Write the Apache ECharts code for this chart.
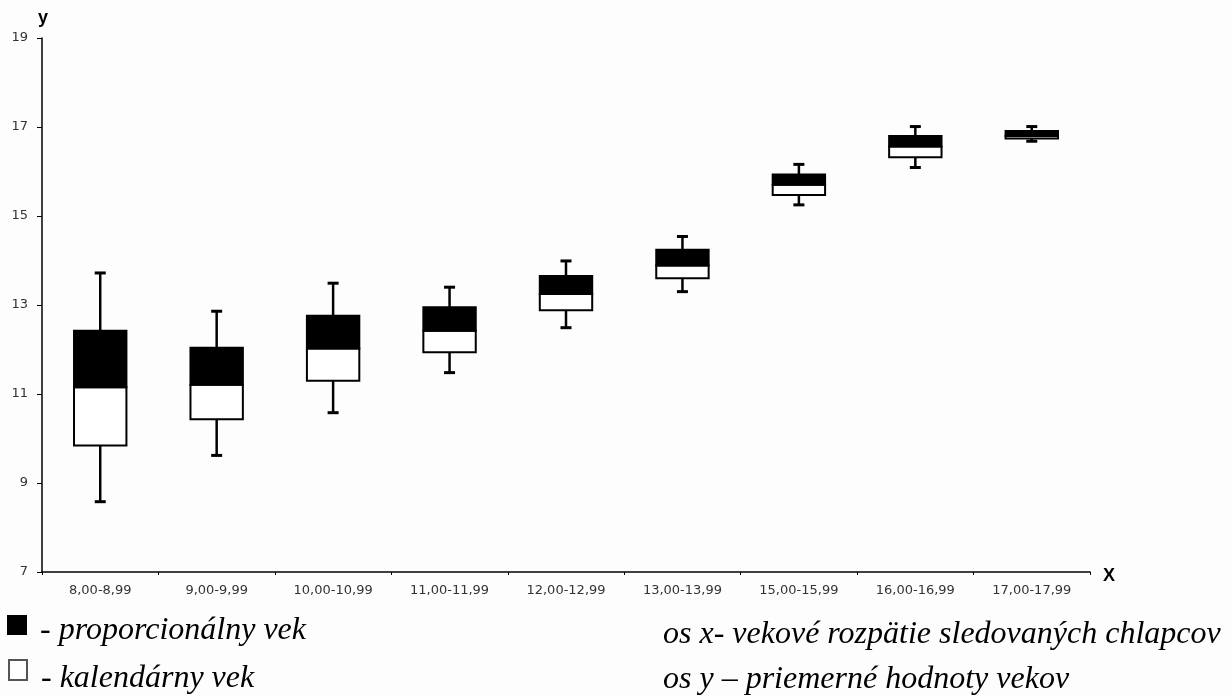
<!DOCTYPE html>
<html>
<head>
<meta charset="utf-8">
<script src="https://cdn.jsdelivr.net/npm/echarts@6/dist/echarts.min.js"></script>
<style>
html,body{margin:0;padding:0;background:#fdfdfd;}
#chart{width:1231px;height:697px;}
</style>
</head>
<body>
<div id="chart"></div>
<script>
// Age-group categories (x axis)
const categories = ['8,00-8,99','9,00-9,99','10,00-10,99','11,00-11,99','12,00-12,99','13,00-13,99','15,00-15,99','16,00-16,99','17,00-17,99'];
// Whisker ends
const whiskerLow  = [8.58, 9.62, 10.58, 11.48, 12.49, 13.30, 15.25, 16.09, 16.68];
const whiskerHigh = [13.72, 12.86, 13.49, 13.40, 13.99, 14.54, 16.16, 17.01, 17.01];
// Box: bottom (white part start), split level, top (black part end)
const boxBottom = [9.84, 10.43, 11.30, 11.94, 12.88, 13.60, 15.47, 16.32, 16.74];
const boxMiddle = [11.15, 11.21, 12.02, 12.42, 13.25, 13.89, 15.70, 16.56, 16.80];
const boxTop    = [12.42, 12.04, 12.76, 12.95, 13.65, 14.24, 15.93, 16.80, 16.91];
// Y axis ticks
const yTicks = [7, 9, 11, 13, 15, 17, 19];

const nameBlack = '- proporcionálny vek';
const nameWhite = '- kalendárny vek';
const noteX = 'os x- vekové rozpätie sledovaných chlapcov';
const noteY = 'os y – priemerné hodnoty vekov';

const lowerData = categories.map((c, i) => [i, whiskerLow[i], boxBottom[i], boxMiddle[i], whiskerHigh[i]]);
const upperData = categories.map((c, i) => [i, boxMiddle[i], boxTop[i]]);

const chart = echarts.init(document.getElementById('chart'), null, {renderer: 'canvas'});

const BOX_FRAC = 0.45;

function renderLower(params, api) {
  const i = api.value(0);
  const pLow = api.coord([i, api.value(1)]);
  const pBot = api.coord([i, api.value(2)]);
  const pMid = api.coord([i, api.value(3)]);
  const pHigh = api.coord([i, api.value(4)]);
  const bw = api.size([1, 0])[0] * BOX_FRAC;
  const capW = 11;
  const x = pLow[0];
  return {
    type: 'group',
    children: [
      {type: 'line', shape: {x1: x, y1: pLow[1], x2: x, y2: pHigh[1]}, style: {stroke: '#000', lineWidth: 2.5}},
      {type: 'line', shape: {x1: x - capW / 2, y1: pLow[1], x2: x + capW / 2, y2: pLow[1]}, style: {stroke: '#000', lineWidth: 3}},
      {type: 'line', shape: {x1: x - capW / 2, y1: pHigh[1], x2: x + capW / 2, y2: pHigh[1]}, style: {stroke: '#000', lineWidth: 3}},
      {type: 'rect', shape: {x: x - bw / 2, y: pMid[1], width: bw, height: pBot[1] - pMid[1]}, style: {fill: '#fff', stroke: '#000', lineWidth: 2}}
    ]
  };
}

function renderUpper(params, api) {
  const i = api.value(0);
  const pMid = api.coord([i, api.value(1)]);
  const pTop = api.coord([i, api.value(2)]);
  const bw = api.size([1, 0])[0] * BOX_FRAC;
  const x = pMid[0];
  return {
    type: 'rect',
    shape: {x: x - bw / 2, y: pTop[1], width: bw, height: pMid[1] - pTop[1]},
    style: {fill: '#000', stroke: '#000', lineWidth: 2}
  };
}

const serifFamily = '"Liberation Serif", "Times New Roman", serif';
const sansFamily = '"DejaVu Sans", Verdana, sans-serif';
const noteFont = 'italic 32px ' + serifFamily;

chart.setOption({
  backgroundColor: '#fdfdfd',
  animation: false,
  grid: {left: 42, right: 141, top: 38, bottom: 125},
  xAxis: {
    type: 'category',
    data: categories,
    boundaryGap: true,
    name: 'X',
    nameLocation: 'end',
    nameGap: 13,
    nameTextStyle: {fontFamily: '"Liberation Sans", Arial, sans-serif', fontWeight: 'bold', fontSize: 18, color: '#000', verticalAlign: 'top', lineHeight: 8},
    axisLine: {lineStyle: {color: '#000', width: 1.5}},
    axisTick: {show: true, interval: 0, alignWithLabel: false, length: 3, lineStyle: {color: '#000'}},
    axisLabel: {interval: 0, margin: 12, fontFamily: sansFamily, fontSize: 13, color: '#333'},
    splitLine: {show: false}
  },
  yAxis: {
    type: 'value',
    min: yTicks[0],
    max: yTicks[yTicks.length - 1],
    interval: 2,
    name: 'y',
    nameLocation: 'end',
    nameGap: 11,
    nameTextStyle: {fontFamily: '"Liberation Sans", Arial, sans-serif', fontWeight: 'bold', fontSize: 18, color: '#000', align: 'left', padding: [0, 0, 0, -4]},
    axisLine: {show: true, lineStyle: {color: '#000', width: 1.5}},
    axisTick: {show: true, length: 5, lineStyle: {color: '#000'}},
    axisLabel: {margin: 14, fontFamily: sansFamily, fontSize: 13, color: '#333'},
    splitLine: {show: false}
  },
  graphic: [
    // key: black = proportional age, white = calendar age
    {type: 'rect', left: 7, top: 615, shape: {width: 20, height: 20}, style: {fill: '#000'}},
    {type: 'text', left: 40, top: 615, style: {text: nameBlack, fill: '#000', font: noteFont}},
    {type: 'rect', left: 8, top: 659, shape: {width: 18, height: 20}, style: {fill: '#fff', stroke: '#555', lineWidth: 2}},
    {type: 'text', left: 41, top: 663, style: {text: nameWhite, fill: '#000', font: noteFont}},
    // axis notes
    {type: 'text', left: 663, top: 619, style: {text: noteX, fill: '#000', font: noteFont}},
    {type: 'text', left: 663, top: 664, style: {text: noteY, fill: '#000', font: noteFont}}
  ],
  series: [
    {
      name: nameWhite,
      type: 'custom',
      renderItem: renderLower,
      encode: {x: 0, y: [1, 2, 3, 4]},
      data: lowerData,
      z: 2
    },
    {
      name: nameBlack,
      type: 'custom',
      renderItem: renderUpper,
      encode: {x: 0, y: [1, 2]},
      data: upperData,
      z: 3
    }
  ]
});
</script>
</body>
</html>
